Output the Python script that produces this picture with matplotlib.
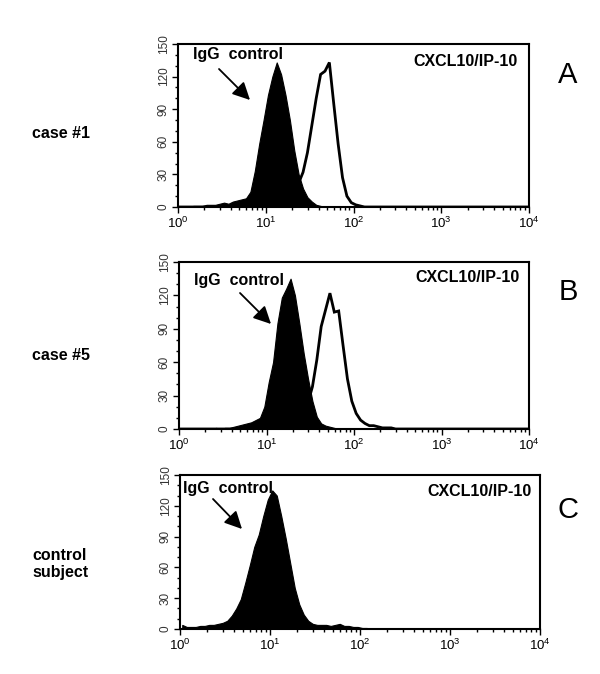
import numpy as np
import matplotlib
matplotlib.use("Agg")
import matplotlib.pyplot as plt
from matplotlib.ticker import MultipleLocator, LogLocator

plt.rcParams['font.family'] = ['Liberation Sans', 'DejaVu Sans']
plt.rcParams['mathtext.default'] = 'regular'

# channel centres: 20 channels per decade, 10^0 .. 10^4
chan = 10 ** (np.arange(80) * 0.05 + 0.025)

# case #1 : IgG control (filled) and CXCL10 (open)
igg_a = [0, 0, 0, 1, 1, 1, 2, 2, 2, 3, 4, 3, 5, 6, 7, 8, 14, 33, 58, 80,
         103, 120, 133, 122, 103, 80, 52, 30, 17, 9, 5, 2, 1, 0, 0, 0, 0, 0, 0, 0,
         0, 0, 0, 0, 0, 0, 0, 0, 0, 0, 0, 0, 0, 0, 0, 0, 0, 0, 0, 0,
         0, 0, 0, 0, 0, 0, 0, 0, 0, 0, 0, 0, 0, 0, 0, 0, 0, 0, 0, 0]
cx_a = [0, 0, 0, 0, 0, 0, 0, 0, 0, 0, 0, 0, 0, 0, 0, 0, 0, 0, 0, 0,
        0, 0, 0, 0, 2, 5, 12, 22, 32, 50, 75, 100, 122, 125, 133, 95, 58, 27, 10, 4,
        2, 1, 0, 0, 0, 0, 0, 0, 0, 0, 0, 0, 0, 0, 0, 0, 0, 0, 0, 0,
        0, 0, 0, 0, 0, 0, 0, 0, 0, 0, 0, 0, 0, 0, 0, 0, 0, 0, 0, 0]

# case #5
igg_b = [0, 0, 0, 0, 0, 0, 0, 0, 1, 0, 1, 1, 2, 3, 4, 5, 6, 8, 10, 20,
         42, 60, 95, 118, 126, 135, 120, 95, 68, 45, 25, 11, 5, 3, 2, 1, 0, 0, 0, 0,
         0, 0, 0, 0, 0, 0, 0, 0, 0, 0, 0, 0, 0, 0, 0, 0, 0, 0, 0, 0,
         0, 0, 0, 0, 0, 0, 0, 0, 0, 0, 0, 0, 0, 0, 0, 0, 0, 0, 0, 0]
cx_b = [0, 0, 0, 0, 0, 0, 0, 0, 0, 0, 0, 0, 0, 0, 0, 0, 0, 0, 0, 0,
        0, 0, 0, 0, 0, 1, 2, 5, 10, 24, 38, 62, 92, 107, 122, 105, 106, 75, 45, 25,
        14, 8, 5, 3, 3, 2, 1, 1, 1, 0, 0, 0, 0, 0, 0, 0, 0, 0, 0, 0,
        0, 0, 0, 0, 0, 0, 0, 0, 0, 0, 0, 0, 0, 0, 0, 0, 0, 0, 0, 0]

# control subject (IgG only)
igg_c = [4, 2, 2, 2, 3, 3, 4, 4, 5, 6, 8, 13, 20, 29, 45, 62, 80, 92, 110, 126,
         135, 130, 110, 88, 64, 40, 24, 14, 8, 5, 4, 4, 4, 3, 4, 5, 3, 3, 2, 2,
         1, 1, 0, 0, 0, 0, 0, 0, 0, 0, 0, 0, 0, 0, 0, 0, 0, 0, 0, 0,
         0, 0, 0, 0, 0, 0, 0, 0, 0, 0, 0, 0, 0, 0, 0, 0, 0, 0, 0, 0]

W, H = 600, 674
fig = plt.figure(figsize=(6, 6.74), dpi=100)

def fx(x):
    return x / W

def fy(y):
    return 1 - y / H

# panel boxes in pixels: left, right, top, bottom
panels = [
    dict(box=(178, 529, 44, 207), igg=igg_a, cx=cx_a, letter="A", side="case #1",
         side_y=133, txt=(193, 55), tail=(219, 69), tip=(250, 100), cx_txt=(518, 61), let_y=75),
    dict(box=(179, 529, 262, 429), igg=igg_b, cx=cx_b, letter="B", side="case #5",
         side_y=355, txt=(194, 280), tail=(240, 293), tip=(271, 324), cx_txt=(520, 277), let_y=292),
    dict(box=(180, 540, 475, 629), igg=igg_c, cx=None, letter="C", side="control\nsubject",
         side_y=564, txt=(183, 488), tail=(213, 499), tip=(242, 529), cx_txt=(532, 492), let_y=510),
]

for p in panels:
    l, r, t, b = p["box"]
    ax = fig.add_axes([fx(l), fy(b), (r - l) / W, (b - t) / H])
    ax.set_xscale('log')
    ax.set_xlim(1, 1e4)
    ax.set_ylim(0, 150)

    if p["cx"] is not None:
        ax.plot(chan, p["cx"], color='black', lw=2, solid_joinstyle='miter')
    ax.fill_between(chan, p["igg"], 0, color='black', lw=0.8, edgecolor='black')

    ax.yaxis.set_major_locator(MultipleLocator(30))
    ax.yaxis.set_minor_locator(MultipleLocator(10))
    ax.xaxis.set_major_locator(LogLocator(base=10))
    ax.xaxis.set_minor_locator(LogLocator(base=10, subs=np.arange(2, 10)))
    ax.tick_params(axis='both', which='major', direction='out', length=4, width=1)
    ax.tick_params(axis='both', which='minor', direction='out', length=2.5, width=1)
    ax.tick_params(axis='x', labelsize=9.5, pad=2)
    ax.tick_params(axis='y', labelsize=8.5, pad=2, labelcolor='#333333')
    for lab in ax.get_yticklabels():
        lab.set_rotation(90)
        lab.set_va('center')
    for s in ax.spines.values():
        s.set_linewidth(1.5)

    fig.text(fx(p["txt"][0]), fy(p["txt"][1]), "IgG  control", fontsize=11.5,
             fontweight='bold', ha='left', va='center')
    fig.text(fx(p["cx_txt"][0]), fy(p["cx_txt"][1]), "CXCL10/IP-10", fontsize=11.5,
             fontweight='bold', ha='right', va='center')
    ax.annotate("", xy=(fx(p["tip"][0]), fy(p["tip"][1])),
                xytext=(fx(p["tail"][0]), fy(p["tail"][1])),
                xycoords='figure fraction', textcoords='figure fraction',
                arrowprops=dict(arrowstyle='-|>,head_length=0.7,head_width=0.35',
                                color='black', lw=1.3,
                                mutation_scale=15, shrinkA=0, shrinkB=0))
    fig.text(fx(568), fy(p["let_y"]), p["letter"], fontsize=21, ha='center', va='center')
    fig.text(fx(32), fy(p["side_y"]), p["side"], fontsize=11.5, fontweight='bold',
             ha='left', va='center', linespacing=1.2)

fig.savefig("out.png", dpi=100, facecolor='white')
